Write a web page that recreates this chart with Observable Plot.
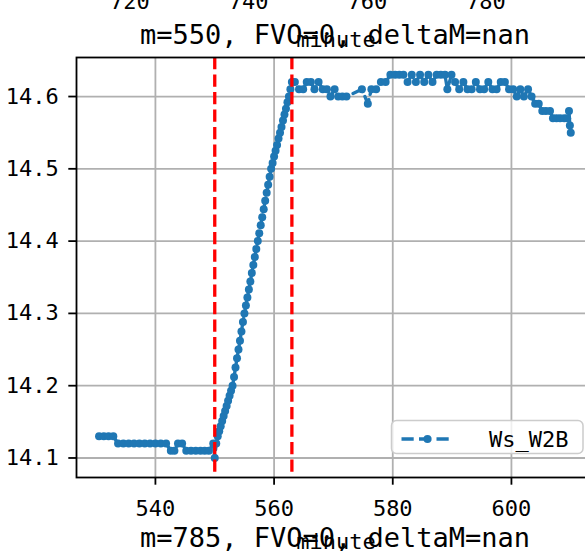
<!DOCTYPE html>
<html><head><meta charset="utf-8">
<script src="https://cdn.jsdelivr.net/npm/d3@7"></script>
<script src="https://cdn.jsdelivr.net/npm/@observablehq/plot@0.6"></script>
<style>
html,body{margin:0;padding:0;background:#fff;overflow:hidden;}
#wrap{position:relative;width:585px;height:553px;overflow:hidden;background:#fff;}
#wrap svg{position:absolute;left:0;top:0;max-width:none !important;}
</style></head><body><div id="wrap"></div>
<script>
// Sample times (minute) and readings of Ws_W2B
const minutes = [
  530.5,531.3,532.1,532.9,533.7,534.6,535.5,536.4,537.3,538.2,539.1,540.0,540.9,541.8,542.6,543.2,543.8,544.5,545.2,546.0,546.8,547.6,548.3,549.0,549.75,550.0,
  550.25,550.5,550.75,551,551.25,551.5,551.75,552,552.25,552.5,552.75,553,553.25,553.5,553.75,554,554.25,554.5,554.75,555,
  555.25,555.5,555.75,556,556.25,556.5,556.75,557,557.25,557.5,557.75,558,558.25,558.5,558.75,559,559.25,559.5,
  559.75,560,560.25,560.5,560.75,561,561.25,561.5,561.75,562,562.25,562.5,562.75,563,
  563.5,564.2,564.9,565.5,566.2,566.8,567.5,568.2,568.9,569.5,570.2,570.8,571.5,572.2,574.8,575.8,576.4,577.2,578.0,578.8,
  579.6,580.4,581.1,581.8,582.5,583.2,583.9,584.6,585.3,586.0,586.7,587.4,588.1,588.8,589.2,589.9,590.5,591.2,591.9,592.6,
  593.3,594.0,594.7,595.4,596.1,596.8,597.5,598.2,598.9,599.6,600.3,600.9,601.5,602.1,602.8,603.4,604.0,604.6,605.2,605.8,
  606.5,607.0,607.6,608.2,608.9,609.4,609.7,609.85,610.0
];
const wsW2B = [
  14.13,14.13,14.13,14.13,14.12,14.12,14.12,14.12,14.12,14.12,14.12,14.12,14.12,14.12,14.11,14.11,14.12,14.12,14.11,14.11,14.11,14.11,14.11,14.11,14.12,14.10,
  14.12,14.13,14.137,14.144,14.151,14.158,14.165,14.172,14.179,14.186,14.193,14.20,14.212,14.225,14.238,14.25,14.262,14.275,14.288,14.30,
  14.311,14.322,14.333,14.344,14.356,14.367,14.378,14.389,14.40,14.411,14.422,14.433,14.444,14.456,14.467,14.478,14.489,14.50,
  14.508,14.517,14.525,14.533,14.542,14.55,14.558,14.567,14.575,14.583,14.592,14.60,14.61,14.62,
  14.62,14.61,14.61,14.62,14.62,14.61,14.62,14.61,14.61,14.60,14.61,14.60,14.60,14.60,14.61,14.59,14.61,14.61,14.62,14.62,
  14.63,14.63,14.63,14.63,14.62,14.63,14.62,14.63,14.62,14.63,14.62,14.63,14.63,14.63,14.61,14.63,14.62,14.61,14.62,14.61,
  14.61,14.62,14.61,14.61,14.62,14.61,14.61,14.62,14.62,14.61,14.61,14.60,14.61,14.60,14.61,14.60,14.59,14.59,14.58,14.58,
  14.58,14.57,14.57,14.57,14.57,14.57,14.58,14.56,14.55
];
const markerMinutes = [550, 563];
const xTicks = [540, 560, 580, 600];
const yTicks = [14.1, 14.2, 14.3, 14.4, 14.5, 14.6];
const upperTicks = [720, 740, 760, 780];   // tick labels of the panel above, cut off
const titleTop = "m=550, FVO=0, deltaM=nan";
const titleBottom = "m=785, FVO=0, deltaM=nan";
const xLabel = "minute";
const seriesName = "Ws_W2B";

const FONT = "'DejaVu Sans Mono', monospace";
const BLUE = "#1f77b4";
const data = minutes.map((m, i) => ({minute: m, value: wsW2B[i]}));

const chart = Plot.plot({
  width: 594, height: 553,
  marginLeft: 76, marginRight: 0, marginTop: 57, marginBottom: 76,
  style: {fontFamily: FONT, fontSize: "22px", background: "white", color: "black", maxWidth: "none"},
  x: {domain: [526.7, 614.0]},
  y: {domain: [14.073, 14.654]},
  marks: [
    Plot.gridX(xTicks, {stroke: "#b0b0b0", strokeOpacity: 1, strokeWidth: 1.8}),
    Plot.gridY(yTicks, {stroke: "#b0b0b0", strokeOpacity: 1, strokeWidth: 1.8}),
    Plot.line(data, {x: "minute", y: "value", stroke: BLUE, strokeWidth: 3.3, strokeDasharray: "12.2,5.3"}),
    Plot.dot(data, {x: "minute", y: "value", r: 4, fill: BLUE}),
    Plot.ruleX(markerMinutes, {stroke: "red", strokeWidth: 3.3, strokeDasharray: "12.2,5.3"}),
    Plot.frame({stroke: "black", strokeWidth: 1.8}),
    Plot.axisX(xTicks, {tickSize: 7.7, tickPadding: 15, strokeWidth: 1.8, label: null, fontSize: 22}),
    Plot.axisY(yTicks, {tickSize: 7.7, tickPadding: 10, strokeWidth: 1.8, label: null, fontSize: 22, tickFormat: d => d.toFixed(1)})
  ]
});
chart.style.maxWidth = "none";
document.getElementById("wrap").appendChild(chart);

const svg = d3.select(chart);
// upper panel's x scale (same pixel extent, different domain)
const upperX = d3.scaleLinear().domain([710.9, 798.2]).range([76, 594]);
const txt = (x, y, s, size, anchor = "middle") => svg.append("text").attr("x", x).attr("y", y)
  .attr("text-anchor", anchor).attr("font-family", FONT).attr("font-size", size)
  .attr("fill", "black").text(s);
upperTicks.forEach(t => txt(upperX(t), 9, String(t), 22));
txt(335, 44, titleTop, 27);
txt(336, 47, xLabel, 22);
txt(335, 546.5, titleBottom, 27);
txt(336, 549, xLabel, 22);

// legend
const lg = svg.append("g");
lg.append("rect").attr("x", 391.5).attr("y", 420.5).attr("width", 191.5).attr("height", 33)
  .attr("rx", 5).attr("fill", "white").attr("fill-opacity", 0.8).attr("stroke", "#cccccc").attr("stroke-width", 1.5);
lg.append("line").attr("x1", 401.5).attr("x2", 453.5).attr("y1", 439).attr("y2", 439)
  .attr("stroke", BLUE).attr("stroke-width", 3.3).attr("stroke-dasharray", "12.2,5.3");
lg.append("circle").attr("cx", 427.5).attr("cy", 439).attr("r", 4).attr("fill", BLUE);
txt(489, 446.5, seriesName, 22, "start");
</script></body></html>
